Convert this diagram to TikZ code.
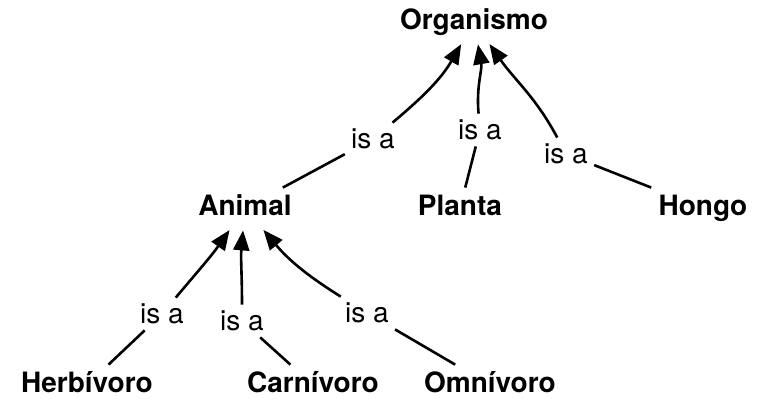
\documentclass[tikz,border=0pt]{standalone}
\usepackage{fontspec}
\setmainfont{TeX Gyre Heros}
\usetikzlibrary{arrows.meta,positioning}

\begin{document}
\begin{tikzpicture}[on grid, node distance = 2cm,
        concept/.style = {font=\fontsize{14}{16}\selectfont\bfseries, inner sep=4pt, text height=10pt, text depth=2pt},
        isa/.style     = {font=\fontsize{14}{16}\selectfont, inner sep=3pt, text height=10pt, text depth=0pt},
        link/.style    = {line width=1.3pt},
        isarrow/.style = {link, -{Triangle[length=10pt, width=8pt]}, shorten >=1pt}]
    \useasboundingbox (-237pt,11pt) rectangle (146.5pt,-188.5pt);

    % concepts
    \node[concept]                                              (organismo) {Organismo};
    \node[concept, below left  = 93pt and 114.5pt of organismo] (animal)    {Animal};
    \node[concept, below left  = 93pt and 7pt of organismo]     (planta)    {Planta};
    \node[concept, below right = 93pt and 114.5pt of organismo] (hongo)     {Hongo};
    \node[concept, below left  = 88.5pt and 79pt of animal]     (herbivoro) {Herbívoro};
    \node[concept, below right = 88.5pt and 34pt of animal]     (carnivoro) {Carnívoro};
    \node[concept, below right = 88.5pt and 122.5pt of animal]  (omnivoro)  {Omnívoro};

    % link labels
    \node[isa, below left  = 58.5pt and 50.5pt of organismo] (isa_1) {is a};
    \node[isa, below right = 54pt and 3pt of organismo]      (isa_2) {is a};
    \node[isa, below right = 66pt and 46pt of organismo]     (isa_3) {is a};
    \node[isa, below left  = 53pt and 41.5pt of animal]      (isa_4) {is a};
    \node[isa, below left  = 56.5pt and 1.5pt of animal]     (isa_5) {is a};
    \node[isa, below right = 52.5pt and 61pt of animal]      (isa_6) {is a};

    % child -- label
    \draw[link] (animal)    -- (isa_1);
    \draw[link] (planta)    -- (isa_2);
    \draw[link] (hongo)     -- (isa_3);
    \draw[link] (herbivoro) -- (isa_4);
    \draw[link] (carnivoro) -- (isa_5);
    \draw[link] (omnivoro)  -- (isa_6);

    % label -> parent
    \draw[isarrow] (isa_1) to[out=40,  in=-120] (organismo);
    \draw[isarrow] (isa_2) to[out=95,  in=-80]  (organismo);
    \draw[isarrow] (isa_3) to[out=118, in=-55]  (organismo);
    \draw[isarrow] (isa_4) to[out=50,  in=-125] (animal);
    \draw[isarrow] (isa_5) to[out=90,  in=-95]  (animal);
    \draw[isarrow] (isa_6) to[out=148, in=-50]  (animal);
\end{tikzpicture}
\end{document}
